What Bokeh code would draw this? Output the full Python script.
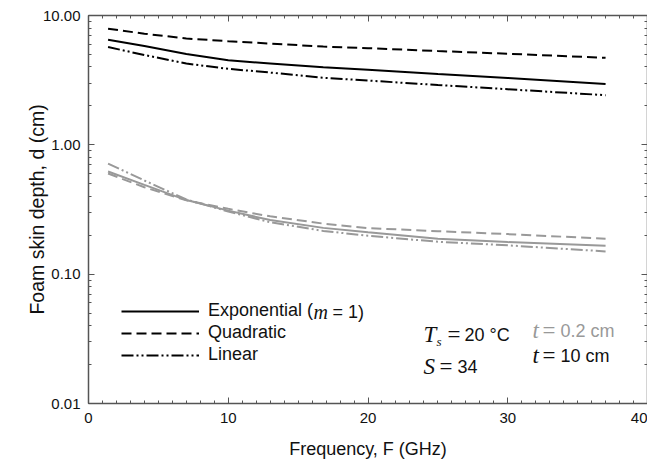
import numpy as np
from bokeh.plotting import figure
from bokeh.models import (LogAxis, LinearAxis, FixedTicker, PrintfTickFormatter,
                          CustomJSTickFormatter, Label, Legend, LegendItem, Range1d)
from bokeh.embed import file_html
from bokeh.resources import INLINE

# ---- data ----
freq = [1.4, 4, 7, 10, 13, 16.8, 20, 25, 30, 37]
# t = 10 cm (black)
thick_exp = [6.5, 5.8, 5.03, 4.5, 4.26, 3.98, 3.80, 3.53, 3.29, 2.96]
thick_quad = [7.9, 7.23, 6.64, 6.33, 6.07, 5.75, 5.59, 5.31, 5.06, 4.71]
thick_lin = [5.7, 4.95, 4.25, 3.87, 3.62, 3.30, 3.14, 2.90, 2.69, 2.42]
# t = 0.2 cm (gray)
thin_exp = [0.622, 0.49, 0.374, 0.31, 0.262, 0.228, 0.211, 0.188, 0.177, 0.166]
thin_quad = [0.60, 0.47, 0.372, 0.32, 0.28, 0.246, 0.227, 0.215, 0.204, 0.188]
thin_lin = [0.716, 0.53, 0.378, 0.305, 0.252, 0.216, 0.198, 0.178, 0.167, 0.150]

x_ticks = [0, 10, 20, 30, 40]
y_ticks = [0.01, 0.1, 1.0, 10.0]
legend_labels = ["Exponential (", "Quadratic", "Linear"]
x_title = "Frequency, F (GHz)"
y_title = "Foam skin depth, d (cm)"

SANS = "Liberation Sans"
SERIF = "Liberation Serif"
AX = "#555555"
TXT = "#111111"
GRAY = "#999999"

p = figure(width=647, height=466, y_axis_type="log",
           x_range=Range1d(0, 40), y_range=Range1d(0.01, 10),
           output_backend="svg", toolbar_location=None,
           min_border_left=88, min_border_right=0, min_border_top=15, min_border_bottom=63)
p.outline_line_color = None
p.xgrid.visible = False
p.ygrid.visible = False
p.background_fill_color = "white"
p.border_fill_color = "white"

minor_x = [float(v) for v in range(0, 41)]
minor_y = [m * d for d in (0.01, 0.1, 1.0) for m in range(1, 11)]


def style_axis(ax, labels=True):
    ax.axis_line_color = AX
    ax.axis_line_width = 1.5
    ax.major_tick_line_color = AX
    ax.minor_tick_line_color = AX
    ax.major_tick_in = 6
    ax.major_tick_out = 0
    ax.minor_tick_in = 3
    ax.minor_tick_out = 0
    ax.major_label_text_font = SANS
    ax.major_label_text_color = TXT
    ax.major_label_text_font_size = "15px"
    ax.axis_label_text_font = SANS
    ax.axis_label_text_font_style = "normal"
    ax.axis_label_text_font_size = "18px"
    ax.axis_label_text_color = TXT
    if not labels:
        ax.formatter = CustomJSTickFormatter(code="return ''")
        ax.major_label_text_font_size = "1px"
        ax.major_label_standoff = 0


xb = p.xaxis[0]
xb.ticker = FixedTicker(ticks=x_ticks, minor_ticks=minor_x)
style_axis(xb)
xb.major_label_standoff = 9
xb.axis_label = x_title
xb.axis_label_standoff = 13

yl = p.yaxis[0]
yl.ticker = FixedTicker(ticks=y_ticks, minor_ticks=minor_y)
yl.formatter = PrintfTickFormatter(format="%.2f")
style_axis(yl)
yl.major_label_standoff = 8
yl.axis_label = y_title
yl.axis_label_text_font_size = "19.5px"
yl.axis_label_standoff = -8

xt = LinearAxis(ticker=FixedTicker(ticks=x_ticks, minor_ticks=minor_x))
style_axis(xt, labels=False)
p.add_layout(xt, "above")

yr = LogAxis(ticker=FixedTicker(ticks=y_ticks, minor_ticks=minor_y))
style_axis(yr, labels=False)
p.add_layout(yr, "right")

# ---- curves ----
DASH = "10 5"
DDOT = "12 3 2 3 2 3"
p.line(freq, thin_exp, line_color=GRAY, line_width=2)
p.line(freq, thin_quad, line_color=GRAY, line_width=2, line_dash=DASH)
p.line(freq, thin_lin, line_color=GRAY, line_width=2, line_dash=DDOT)
r_exp = p.line(freq, thick_exp, line_color="black", line_width=2)
r_quad = p.line(freq, thick_quad, line_color="black", line_width=2, line_dash=DASH)
r_lin = p.line(freq, thick_lin, line_color="black", line_width=2, line_dash=DDOT)

legend = Legend(items=[LegendItem(label=legend_labels[0], renderers=[r_exp]),
                       LegendItem(label=legend_labels[1], renderers=[r_quad]),
                       LegendItem(label=legend_labels[2], renderers=[r_lin])],
                location=(33, 38), orientation="vertical",
                glyph_width=78, glyph_height=20, label_height=20,
                label_standoff=9, spacing=1, padding=0, margin=0,
                border_line_color=None, background_fill_alpha=0,
                label_text_font=SANS, label_text_font_size="18px",
                label_text_color=TXT)
p.add_layout(legend)


def lab(x, y, text, font=SANS, size="18px", style="normal", color=TXT,
        baseline="alphabetic"):
    p.add_layout(Label(x=x, y=y, x_units="screen", y_units="screen", text=text,
                       text_font=font, text_font_size=size, text_font_style=style,
                       text_color=color, text_baseline=baseline, text_align="left"))


# legend first entry continuation: (m = 1)
lab(225, 92, "m", font=SERIF, size="20px", style="italic", baseline="middle")
lab(244, 92, " = 1)", baseline="middle")

# annotations
lab(335, 69, "T", font=SERIF, size="23px", style="italic")
lab(348, 62, "s", font=SERIF, size="13px", style="italic")
lab(359, 69, "=", font=SERIF, size="23px")
lab(376, 69, "20 °C")
lab(335, 37, "S", font=SERIF, size="23px", style="italic")
lab(351, 37, "=", font=SERIF, size="23px")
lab(369, 37, "34")
lab(444, 73, "t", font=SERIF, size="23px", style="italic", color=GRAY)
lab(454, 73, "=", font=SERIF, size="23px", color=GRAY)
lab(472, 73, "0.2 cm", color=GRAY)
lab(444, 48, "t", font=SERIF, size="23px", style="italic")
lab(454, 48, "=", font=SERIF, size="23px")
lab(472, 48, "10 cm")

open("out.html", "w").write(file_html(p, INLINE))
